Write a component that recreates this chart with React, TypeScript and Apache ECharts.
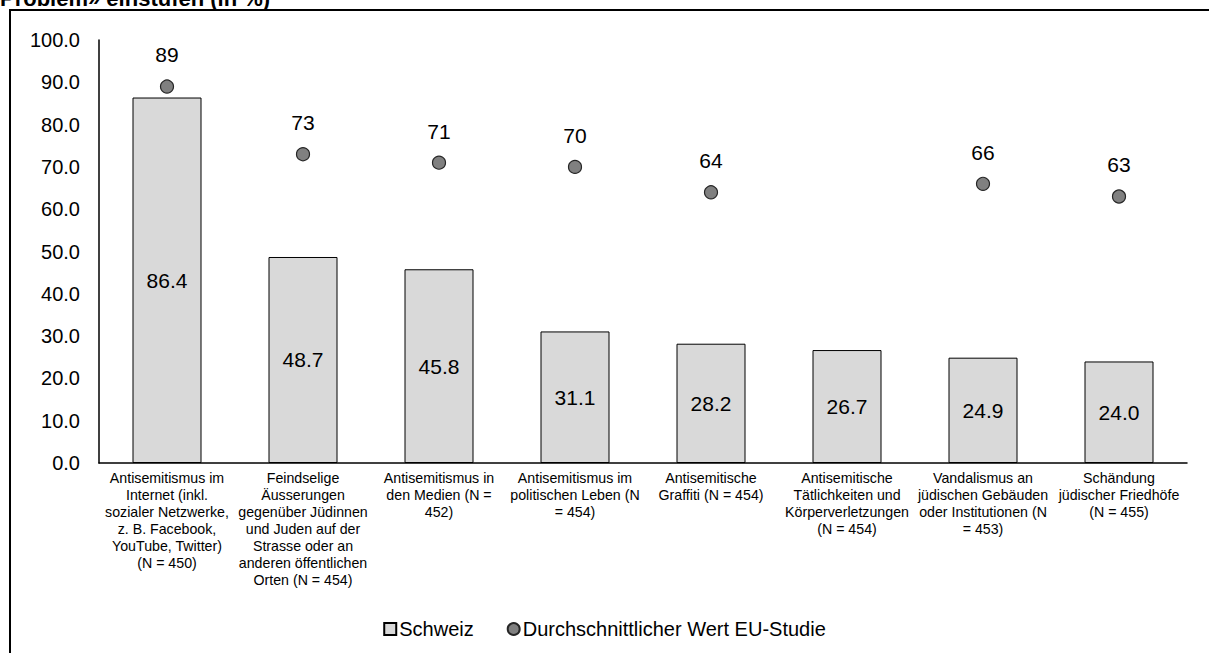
import React, { useEffect, useRef } from "react";
import * as echarts from "echarts";

const categories = [
  "Antisemitismus im\nInternet (inkl.\nsozialer Netzwerke,\nz. B. Facebook,\nYouTube, Twitter)\n(N = 450)",
  "Feindselige\nÄusserungen\ngegenüber Jüdinnen\nund Juden auf der\nStrasse oder an\nanderen öffentlichen\nOrten (N = 454)",
  "Antisemitismus in\nden Medien (N =\n452)",
  "Antisemitismus im\npolitischen Leben (N\n= 454)",
  "Antisemitische\nGraffiti (N = 454)",
  "Antisemitische\nTätlichkeiten und\nKörperverletzungen\n(N = 454)",
  "Vandalismus an\njüdischen Gebäuden\noder Institutionen (N\n= 453)",
  "Schändung\njüdischer Friedhöfe\n(N = 455)",
];

const schweiz = [86.4, 48.7, 45.8, 31.1, 28.2, 26.7, 24.9, 24.0];
const euStudie: (number | null)[] = [89, 73, 71, 70, 64, null, 66, 63];

const titleText = "Problem» einstufen (in %)";
const FONT = "'Liberation Sans', Arial, sans-serif";

export default function App() {
  const ref = useRef<HTMLDivElement>(null);
  useEffect(() => {
    if (!ref.current) return;
    const chart = echarts.init(ref.current, null, { renderer: "svg" });
    chart.setOption({
      animation: false,
      backgroundColor: "#ffffff",
      textStyle: { fontFamily: FONT, color: "#000" },
      graphic: [
        {
          type: "rect",
          shape: { x: 10, y: 10, width: 1400, height: 800 },
          style: { fill: "none", stroke: "#000", lineWidth: 2 },
          silent: true,
        },
        {
          type: "text",
          x: 0,
          y: -1.5,
          style: {
            text: titleText,
            font: `bold 22px ${FONT}`,
            fill: "#000",
            verticalAlign: "middle",
          },
        },
      ],
      grid: { left: 99, right: 22, top: 40, bottom: 190, containLabel: false },
      legend: {
        left: "center",
        top: 614,
        itemWidth: 12,
        itemHeight: 12,
        itemGap: 33,
        textStyle: { fontSize: 20, fontFamily: FONT, color: "#000", padding: [0, 0, 0, -2] },
        data: [
          { name: "Schweiz", icon: "rect" },
          { name: "Durchschnittlicher Wert EU-Studie", icon: "circle" },
        ],
      },
      xAxis: {
        type: "category",
        data: categories,
        axisLine: { show: true, lineStyle: { color: "#000", width: 1.5 } },
        axisTick: { show: false },
        axisLabel: {
          interval: 0,
          margin: 6.5,
          fontSize: 14.2,
          lineHeight: 17,
          color: "#000",
          fontFamily: FONT,
          align: "center",
        },
      },
      yAxis: {
        type: "value",
        min: 0,
        max: 100,
        interval: 10,
        splitLine: { show: false },
        axisTick: { show: false },
        axisLine: { show: true, lineStyle: { color: "#000", width: 1.5 } },
        axisLabel: {
          margin: 19,
          fontSize: 20,
          color: "#000",
          fontFamily: FONT,
          formatter: (v: number) => v.toFixed(1),
        },
      },
      series: [
        {
          name: "Schweiz",
          type: "bar",
          data: schweiz,
          barWidth: 69,
          itemStyle: { color: "#d9d9d9", borderColor: "#000", borderWidth: 1 },
          label: {
            show: true,
            position: "inside",
            fontSize: 21,
            color: "#000",
            fontFamily: FONT,
            formatter: (p: any) => Number(p.value).toFixed(1),
          },
          z: 2,
        },
        {
          name: "Durchschnittlicher Wert EU-Studie",
          type: "scatter",
          data: euStudie.map((v) => (v === null ? "-" : v)),
          symbol: "circle",
          symbolSize: 13,
          itemStyle: { color: "#808080", borderColor: "#262626", borderWidth: 1.2, opacity: 1 },
          label: {
            show: true,
            position: "top",
            distance: 14,
            fontSize: 21,
            color: "#000",
            fontFamily: FONT,
          },
          z: 5,
        },
      ],
    });
    return () => chart.dispose();
  }, []);
  return (
    <div
      ref={ref}
      style={{ position: "fixed", left: 0, top: 0, width: 1209, height: 653 }}
    />
  );
}
